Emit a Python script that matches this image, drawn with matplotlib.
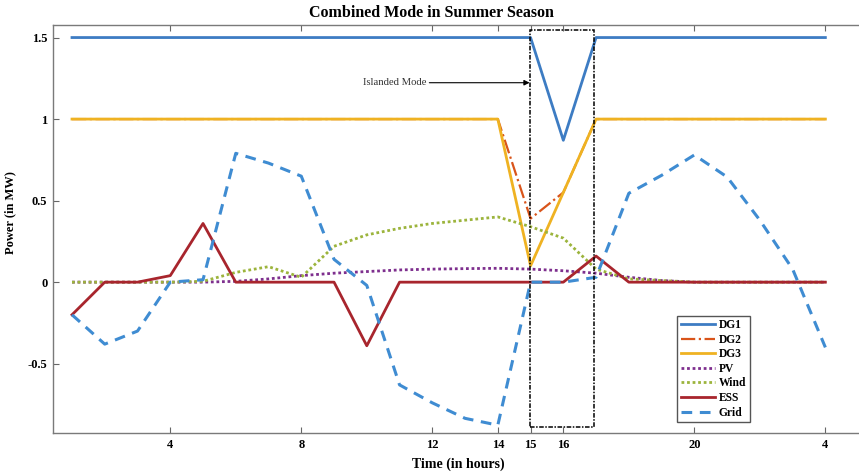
import matplotlib

matplotlib.use("Agg")
import matplotlib.pyplot as plt
from matplotlib.patches import Rectangle

plt.rcParams["font.family"] = ["Liberation Serif", "DejaVu Serif"]
plt.rcParams["font.weight"] = "bold"

# --- hourly dispatch, summer day, combined grid-tied / islanded ---------- #
hours = list(range(1, 25))
tick_pos = [4, 8, 12, 14, 15, 16, 20, 24]
tick_lbl = ["4", "8", "12", "14", "15", "16", "20", "4"]

dg1 = [1.5] * 15 + [0.87] + [1.5] * 8
dg2 = [1.0] * 14 + [0.39, 0.55] + [1.0] * 8
dg3 = [1.0] * 14 + [0.10, 0.55] + [1.0] * 8
pv = [0, 0, 0, 0, 0, 0.005, 0.02, 0.04, 0.055, 0.065, 0.075, 0.08,
      0.083, 0.085, 0.08, 0.07, 0.055, 0.03, 0.01, 0, 0, 0, 0, 0]
wind = [0, 0, 0, 0, 0.005, 0.06, 0.095, 0.03, 0.22, 0.29, 0.33, 0.36,
        0.38, 0.40, 0.34, 0.27, 0.08, 0.02, 0.01, 0, 0, 0, 0, 0]
ess = [-0.2, 0, 0, 0.04, 0.36, 0, 0, 0, 0, -0.39, 0, 0,
       0, 0, 0, 0, 0.16, 0, 0, 0, 0, 0, 0, 0]
grid = [-0.2, -0.38, -0.30, 0, 0.015, 0.79, 0.73, 0.65, 0.14, -0.02, -0.63, -0.74,
        -0.835, -0.877, 0, 0, 0.03, 0.545, 0.655, 0.78, 0.645, 0.38, 0.08, -0.40]

# islanded window drawn as a box
island_x = (14.97, 16.93)
island_y = (-0.89, 1.545)

fig = plt.figure(figsize=(8.59, 4.75), dpi=100)
ax = fig.add_axes([0.0617, 0.0884, 0.943, 0.859])

ax.plot(hours, dg1, color="#3d7cc3", lw=2.0, label="DG1")
ax.plot(hours, dg2, color="#d9541a", lw=1.6, ls="-.", label="DG2")
ax.plot(hours, dg3, color="#efb222", lw=2.0, label="DG3")
ax.plot(hours, pv, color="#7e2f8e", lw=2.0, ls=(0, (1, 1)), label="PV")
ax.plot(hours, wind, color="#9cb43c", lw=2.0, ls=(0, (1, 1)), label="Wind")
ax.plot(hours, ess, color="#a8252d", lw=2.0, label="ESS")
ax.plot(hours, grid, color="#3f8cd2", lw=2.2, ls=(0, (3.5, 2.5)), label="Grid")

ax.add_patch(Rectangle((island_x[0], island_y[0]), island_x[1] - island_x[0],
                       island_y[1] - island_y[0], fill=False, ec="black",
                       lw=1.1, ls=(0, (3, 1, 1, 1)), zorder=5))
ax.annotate("Islanded Mode", xy=(14.97, 1.223), xytext=(9.89, 1.223),
            fontsize=7.7, fontweight="normal", color="#333333",
            ha="left", va="center",
            arrowprops=dict(arrowstyle="-|>", color="black", lw=0.8,
                            mutation_scale=8, shrinkA=0, shrinkB=0))

ax.set_xlim(0.42, 25.15)
ax.set_ylim(-0.925, 1.577)
ax.set_xticks(tick_pos)
ax.set_xticklabels(tick_lbl)
ax.set_yticks([-0.5, 0, 0.5, 1, 1.5])
ax.set_yticklabels(["-0.5", "0", "0.5", "1", "1.5"])
ax.tick_params(direction="in", length=4, width=0.8, color="#666666",
               labelsize=9, top=True, pad=4)

for side in ("left", "bottom", "top"):
    ax.spines[side].set_color("#7a7a7a")
    ax.spines[side].set_linewidth(1.0)
ax.spines["right"].set_visible(False)

ax.set_xlabel("Time (in hours)", fontsize=10, fontweight="bold", labelpad=5)
ax.set_ylabel("Power (in MW)", fontsize=9, fontweight="bold")
ax.yaxis.set_label_coords(-0.045, 0.54)
fig.text(0.502, 0.972, "Combined Mode in Summer Season", ha="center",
         va="center", fontsize=11.5, fontweight="bold")

leg = ax.legend(loc="lower right", bbox_to_anchor=(0.860, 0.027), fontsize=8.3,
                frameon=True, fancybox=False, framealpha=1, edgecolor="#555555",
                handlelength=3.0, handletextpad=0.3, labelspacing=0.22,
                borderpad=0.3, borderaxespad=0)
leg.get_frame().set_linewidth(1.0)
for t in leg.get_texts():
    t.set_fontweight("bold")

fig.savefig("out.png", dpi=100)
